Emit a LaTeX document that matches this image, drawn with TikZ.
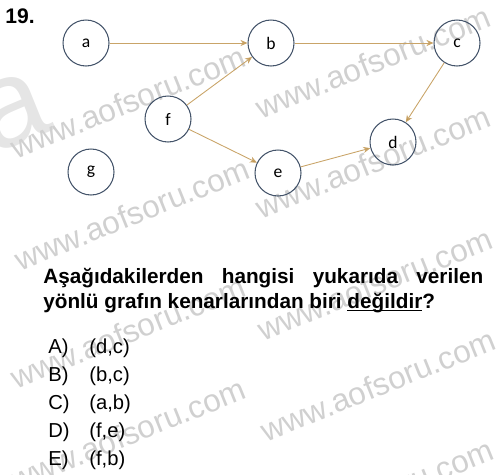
\documentclass[tikz,border=0pt]{standalone}
\usepackage{fontspec}
\setmainfont{Liberation Sans}
\newfontfamily\calibri{Carlito}
\usetikzlibrary{arrows.meta}
\definecolor{nodeline}{HTML}{44546A}
\definecolor{edgeline}{HTML}{C9A468}
\definecolor{edgetip}{HTML}{B8893A}
\definecolor{wmark}{HTML}{D0D0D0}
\newcommand\undl[1]{\leavevmode\setbox0\hbox{#1}\rlap{\rule[-1.7pt]{\wd0}{0.7pt}}\box0}
\tikzset{
  vertex/.style={circle, draw=nodeline, line width=0.6pt, minimum size=0.92cm, inner sep=0pt,
    font=\calibri\fontsize{10}{12}\selectfont},
  edge/.style={draw=edgeline, line width=0.5pt, -{Stealth[length=4pt,width=3.5pt,fill=edgetip]}},
  wm/.style={text=wmark, font=\fontsize{18}{20}\selectfont, rotate=22},
  opt/.style={anchor=base west, inner sep=0pt, font=\fontsize{11.5}{13}\selectfont},
  quest/.style={anchor=base west, inner sep=0pt, font=\bfseries\fontsize{11.8}{14}\selectfont}
}
\begin{document}
\begin{tikzpicture}[x=0.02cm, y=-0.02cm]
\useasboundingbox (0,0) rectangle (500,474);
\clip (0,0) rectangle (500,474);
\node[text=wmark!55, font=\fontsize{70}{70}\selectfont, rotate=22] (bigmark) at (12,112) {a};
\foreach \wx/\wy in {128/102, 132/214, 128/332, 128/434, 373/62, 373/162, 375/284, 378/385, 376/495}
  \node[wm] at (\wx,\wy) {www.aofsoru.com};

\node[anchor=base west, inner sep=0pt, font=\bfseries\fontsize{12}{14}\selectfont] (num) at (5,23) {19.};

\node[vertex] (a) at (86,43) {a};
\node[vertex] (b) at (271,43) {b};
\node[vertex] (c) at (457,43) {c};
\node[vertex] (d) at (393,142) {d};
\node[vertex] (e) at (278,173) {e};
\node[vertex] (f) at (168,119) {f};
\node[vertex] (g) at (91,172) {g};

\draw[edge] (a) -- (b);
\draw[edge] (b) -- (c);
\draw[edge] (c) -- (d);
\draw[edge] (f) -- (b);
\draw[edge] (f) -- (e);
\draw[edge] (e) -- (d);

\node[quest] (q1) at (43,283) {\makebox[8.8cm][s]{Aşağıdakilerden hangisi yukarıda verilen}};
\node[quest] (q2) at (43,308) {yönlü grafın kenarlarından biri \undl{değildir}?};

\foreach \lab/\pair [count=\i from 0] in {A/{(d,c)},B/{(b,c)},C/{(a,b)},D/{(f,e)},E/{(f,b)}} {
  \node[opt] (lab\lab) at (48,353+28*\i) {\lab)};
  \node[opt] (pair\lab) at (89,353+28*\i) {\pair};
}
\end{tikzpicture}
\end{document}
